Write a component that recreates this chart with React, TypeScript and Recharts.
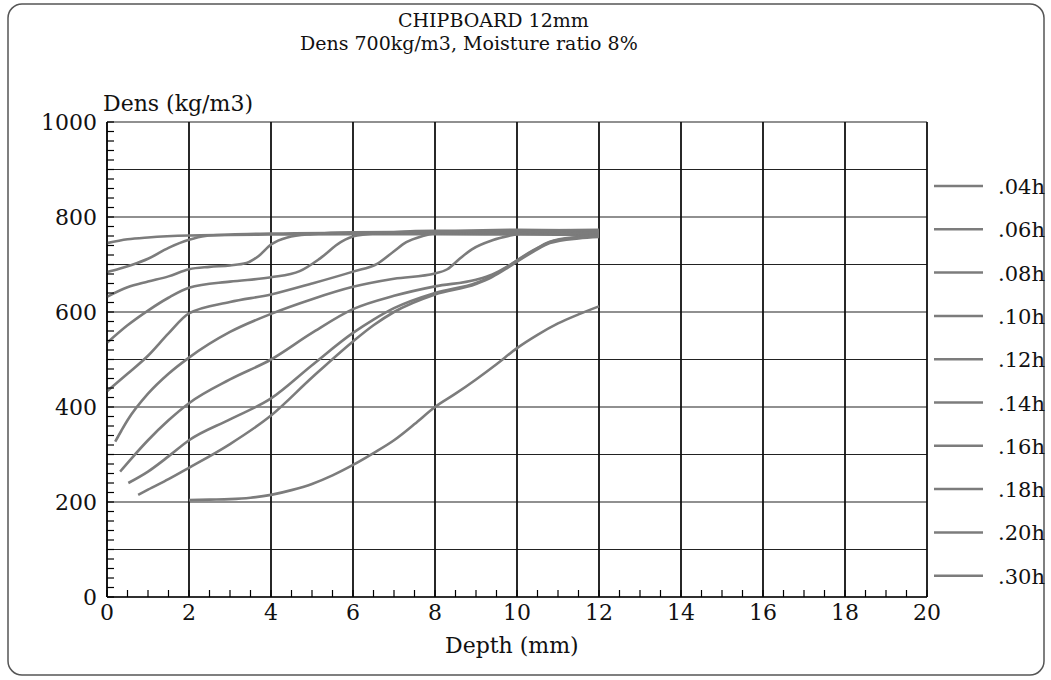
import React from 'react'
import { LineChart, Line, XAxis, YAxis, ReferenceLine } from 'recharts'

const FONT = '"DejaVu Serif", "Liberation Serif", serif'
const INK = '#111'
const CURVE = '#7c7c7c'

const LABELS = ['.04h', '.06h', '.08h', '.10h', '.12h', '.14h', '.16h', '.18h', '.20h', '.30h']

// [depth mm, density kg/m3]
const H04 = [[0, 745], [0.5, 753], [1, 757], [2, 761], [3, 762], [4, 763], [6, 764], [8, 764], [10, 763], [12, 762]]
const H06 = [[0, 684], [0.3, 691], [0.6, 699], [1, 712], [1.5, 735], [2, 752], [2.4, 760], [3, 763], [4, 765], [6, 767], [8, 767], [10, 766], [12, 765]]
const H08 = [[0, 632], [0.5, 652], [1, 664], [1.5, 675], [2, 690], [2.5, 695], [3, 698], [3.4, 703], [3.7, 718], [4, 742], [4.4, 757], [5, 764], [6, 768], [8, 769], [10, 768], [12, 766]]
const H10 = [[0, 535], [0.5, 572], [1, 603], [1.5, 630], [2, 651], [3, 664], [4, 673], [4.7, 686], [5.2, 713], [5.7, 747], [6.1, 761], [7, 768], [8, 771], [10, 771], [12, 768]]
const H12 = [[0, 433], [0.5, 470], [1, 508], [1.5, 555], [2, 597], [3, 621], [4, 637], [5, 660], [6, 685], [6.6, 702], [7, 728], [7.3, 747], [7.7, 760], [8.5, 770], [10, 773], [12, 771]]
const H14 = [[0.2, 327], [0.35, 350], [0.5, 372], [1, 428], [1.5, 470], [2, 504], [3, 558], [4, 596], [5, 627], [6, 653], [7, 670], [8, 681], [8.3, 690], [8.6, 712], [8.9, 732], [9.4, 751], [9.9, 762], [11, 772], [12, 773]]
const H16 = [[0.32, 264], [0.6, 292], [1, 330], [1.5, 372], [2, 408], [3, 458], [4, 500], [5, 556], [6, 606], [7, 634], [8, 654], [9, 668], [9.4, 679], [9.75, 695], [10, 709], [10.4, 730], [10.8, 748], [11.5, 758], [12, 762]]
const H18 = [[0.52, 240], [1, 264], [1.5, 296], [2, 330], [3, 374], [4, 418], [5, 488], [6, 556], [6.5, 584], [7, 608], [8, 640], [9, 661], [9.4, 676], [9.75, 694], [10, 708], [10.4, 729], [10.8, 747], [11.5, 757], [12, 760]]
const H20 = [[0.76, 215], [1, 226], [1.5, 248], [2, 272], [3, 322], [4, 382], [5, 462], [6, 538], [6.5, 572], [7, 600], [8, 637], [9, 659], [9.4, 674], [9.75, 692], [10, 706], [10.4, 727], [10.8, 745], [11.5, 755], [12, 758]]
const H30 = [[2, 204], [2.5, 205], [3, 206], [3.5, 209], [4, 215], [4.5, 225], [5, 238], [5.5, 256], [6, 278], [6.5, 303], [7, 330], [7.5, 364], [8, 400], [8.5, 428], [9, 458], [9.5, 490], [10, 524], [10.5, 552], [11, 576], [11.5, 595], [12, 612]]

const SERIES = [H04, H06, H08, H10, H12, H14, H16, H18, H20, H30]

const X_TICKS = [0, 2, 4, 6, 8, 10, 12, 14, 16, 18, 20]
const Y_TICKS = [0, 200, 400, 600, 800, 1000]
const Y_GRID = [0, 100, 200, 300, 400, 500, 600, 700, 800, 900, 1000]
// small ruler ticks: every 0.5 mm on depth, every 20 kg/m3 on density
const X_MINOR = Array.from({ length: 41 }, (_, i) => i * 0.5)
const Y_MINOR = Array.from({ length: 51 }, (_, i) => i * 20)

// plot box, set by the chart margins + axis sizes below
const PLOT = { left: 107, right: 927, top: 122, bottom: 597 }

const toRows = (pts: number[][]) => pts.map(([x, y]) => ({ x, y }))

const Overlay = () => {
  const sx = (v: number) => PLOT.left + (v / 20) * (PLOT.right - PLOT.left)
  const sy = (v: number) => PLOT.bottom - (v / 1000) * (PLOT.bottom - PLOT.top)
  return (
    <svg width={1051} height={680} style={{ position: 'absolute', left: 0, top: 0, pointerEvents: 'none' }}>
      <rect x={8} y={4} width={1036} height={671} rx={14} ry={14} fill="none" stroke="#555" strokeWidth={1.5} />
      {X_MINOR.map((v) => (
        <line key={`xm${v}`} x1={sx(v)} x2={sx(v)} y1={PLOT.bottom} y2={PLOT.bottom - 7} stroke="#000" strokeWidth={1.2} />
      ))}
      {Y_MINOR.map((v) => (
        <line key={`ym${v}`} x1={PLOT.left} x2={PLOT.left + 7} y1={sy(v)} y2={sy(v)} stroke="#000" strokeWidth={1.2} />
      ))}
      <text x={398} y={27} fontFamily={FONT} fontSize={19} fill={INK}>CHIPBOARD 12mm</text>
      <text x={300} y={50} fontFamily={FONT} fontSize={19} fill={INK}>Dens 700kg/m3, Moisture ratio 8%</text>
      <text x={103} y={111} fontFamily={FONT} fontSize={22} fill={INK}>Dens (kg/m3)</text>
      <text x={445} y={653} fontFamily={FONT} fontSize={22} fill={INK}>Depth (mm)</text>
      {LABELS.map((lab, i) => {
        const y = 186 + i * 43.3
        return (
          <g key={lab}>
            <line x1={934} x2={983} y1={y} y2={y} stroke={CURVE} strokeWidth={2.5} />
            <text x={998} y={y + 8} fontFamily={FONT} fontSize={21} fill={INK}>{lab}</text>
          </g>
        )
      })}
    </svg>
  )
}

export default function App() {
  return (
    <div style={{ position: 'fixed', left: 0, top: 0, width: 1051, height: 680, background: '#fff' }}>
      <LineChart width={1051} height={680} margin={{ top: 122, right: 124, bottom: 53, left: 47 }}>
        {Y_GRID.map((v) => (
          <ReferenceLine key={`h${v}`} xAxisId="x" yAxisId="y" y={v} stroke="#222" strokeWidth={1.1} />
        ))}
        {X_TICKS.map((v) => (
          <ReferenceLine key={`v${v}`} xAxisId="x" yAxisId="y" x={v} stroke="#111" strokeWidth={1.8} />
        ))}
        <XAxis
          xAxisId="x"
          type="number"
          dataKey="x"
          domain={[0, 20]}
          ticks={X_TICKS}
          interval={0}
          height={30}
          tickSize={0}
          tickMargin={7}
          tickLine={false}
          axisLine={{ stroke: '#111', strokeWidth: 1.5 }}
          tick={{ fontFamily: FONT, fontSize: 22, fill: INK }}
        />
        <YAxis
          yAxisId="y"
          type="number"
          domain={[0, 1000]}
          ticks={Y_TICKS}
          interval={0}
          width={60}
          tickSize={0}
          tickMargin={10}
          tickLine={false}
          axisLine={{ stroke: '#111', strokeWidth: 1.5 }}
          tick={{ fontFamily: FONT, fontSize: 22, fill: INK }}
        />
        {SERIES.map((pts, i) => (
          <Line
            key={LABELS[i]}
            xAxisId="x"
            yAxisId="y"
            data={toRows(pts)}
            dataKey="y"
            type="monotone"
            stroke={CURVE}
            strokeWidth={2.6}
            dot={false}
            isAnimationActive={false}
          />
        ))}
      </LineChart>
      <Overlay />
    </div>
  )
}
